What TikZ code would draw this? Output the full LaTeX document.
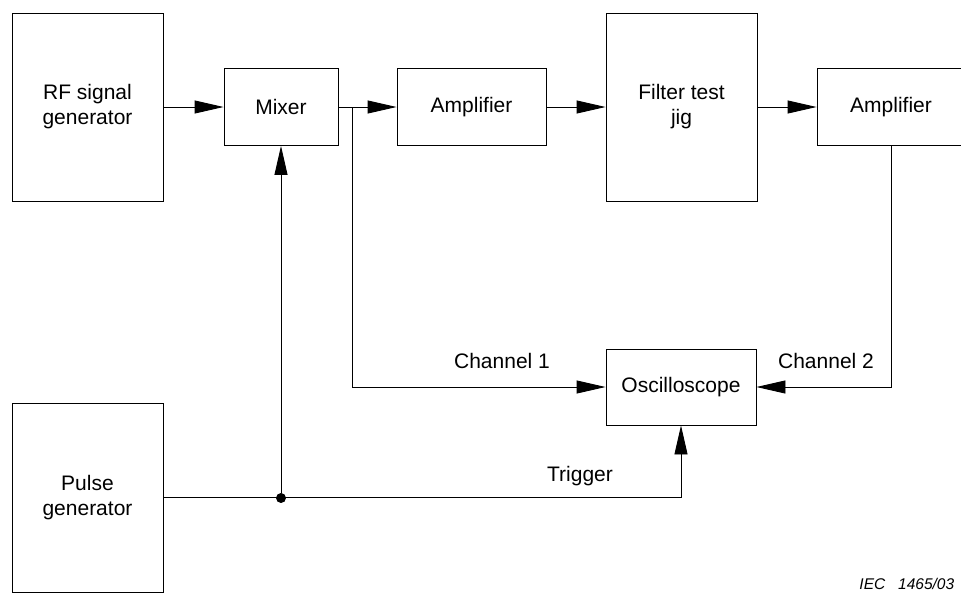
\documentclass[tikz,border=0pt]{standalone}
\usepackage{fontspec}
\setmainfont{Liberation Sans}
\usetikzlibrary{arrows.meta}
\usetikzlibrary{positioning}

\begin{document}
\begin{tikzpicture}[x=1pt,y=-1pt,line width=0.9pt,
  every node/.style={font=\fontsize{21}{25}\selectfont},
  block/.style={draw,rectangle,align=center,inner sep=0pt},
  arr/.style={-{Triangle[length=29pt,width=13pt]}},
  junction/.style={draw,circle,fill,inner sep=0pt,minimum size=9pt}]
  \useasboundingbox (0,0) rectangle (961,595);
  % top row
  \node[block,minimum width=151pt,minimum height=188pt] (rf) at (87.5,107) {RF signal\\generator};
  \node[block,minimum width=114pt,minimum height=77pt] (mixer) at (281,107) {Mixer};
  \node[block,minimum width=149pt,minimum height=77pt] (amp1) at (471.5,107) {Amplifier};
  \node[block,minimum width=151pt,minimum height=188pt] (jig) at (681.5,107) {Filter test\\jig};
  \node[block,minimum width=148pt,minimum height=77pt] (amp2) at (891,107) {Amplifier};
  % bottom row
  \node[block,minimum width=150pt,minimum height=76pt] (scope) at (681,387) {Oscilloscope};
  \node[block,minimum width=151pt,minimum height=189pt] (pulse) at (87.5,497.5) {Pulse\\generator};
  \node[junction] (dot) at (281,498) {};
  \coordinate (tap) at (352,107);
  \draw[arr] (rf) -- (mixer);
  \draw[arr] (mixer) -- (amp1);
  \draw[arr] (amp1) -- (jig);
  \draw[arr] (jig) -- (amp2);
  \draw[arr] (tap) |- (scope.west);
  \draw[arr] (amp2.south) |- (scope.east);
  \draw[arr] (pulse.east) -| (scope.south);
  \draw[arr] (dot) -- (mixer.south);
  % labels
  \node[anchor=base] (ch1) at (502,368) {Channel 1};
  \node[anchor=base] (ch2) at (826,368) {Channel 2};
  \node[anchor=base] (trig) at (580,481) {Trigger};
  \node[anchor=base east,font=\fontsize{15.5}{18}\selectfont\itshape] (iec) at (958,589) {IEC\ \ \ 1465/03};
\end{tikzpicture}
\end{document}
